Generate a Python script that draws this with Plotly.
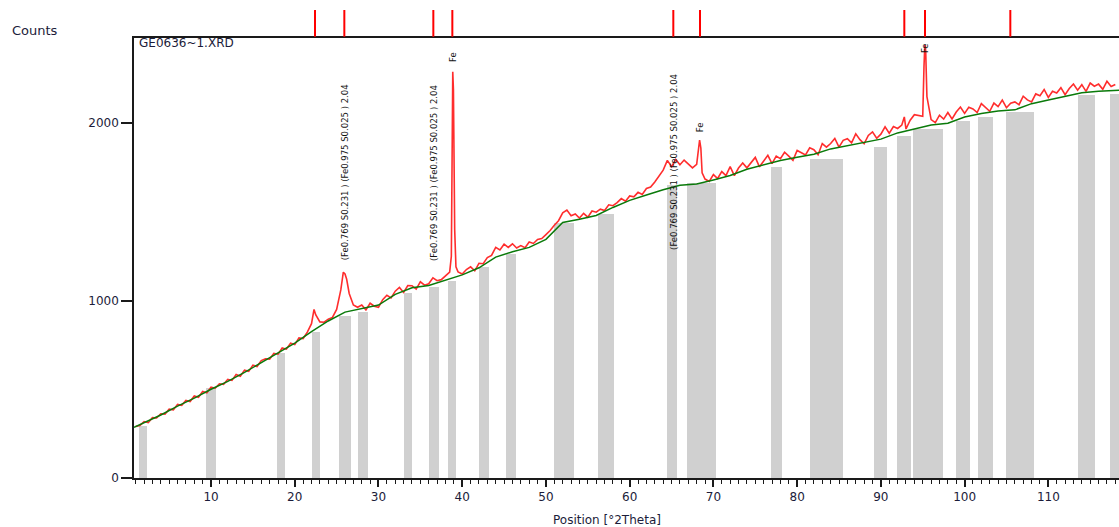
import numpy as np
import plotly.graph_objects as go

# ---------------- data ----------------
# measured counts, 0.5 deg steps starting at 1.0 deg
scan_start = 1.0
scan_step = 0.5
counts = [
    290, 296, 318, 312, 340, 338, 362, 360, 388, 384,
    415, 410, 437, 431, 462, 455, 488, 480, 512, 506,
    531, 528, 556, 550, 583, 574, 608, 601, 636, 628,
    662, 672, 670, 703, 698, 733, 726, 760, 752, 790,
    786, 822, 870, 920, 880, 878, 895, 905, 950, 1060,
    1150, 1040, 975, 962, 975, 948, 985, 968, 962, 1005,
    1030, 1015, 1053, 1074, 1046, 1085, 1084, 1065, 1106, 1087,
    1095, 1128, 1112, 1118, 1140, 1160, 1850, 1162, 1150, 1175,
    1190, 1168, 1210, 1208, 1242, 1255, 1300, 1285, 1318, 1300,
    1320, 1296, 1310, 1298, 1330, 1322, 1345, 1350, 1372, 1395,
    1425, 1450, 1495, 1510, 1478, 1488, 1465, 1492, 1470, 1505,
    1498, 1515, 1508, 1540, 1535, 1552, 1575, 1560, 1590, 1585,
    1610, 1598, 1632, 1640, 1668, 1705, 1735, 1790, 1755, 1795,
    1765, 1792, 1770, 1748, 1768, 1860, 1685, 1672, 1710, 1688,
    1727, 1704, 1755, 1704, 1747, 1776, 1748, 1776, 1807, 1754,
    1785, 1819, 1772, 1814, 1800, 1836, 1814, 1791, 1846, 1834,
    1821, 1861, 1850, 1822, 1885, 1865, 1885, 1914, 1865, 1903,
    1912, 1889, 1940, 1907, 1884, 1931, 1951, 1915, 1938, 1979,
    1943, 1981, 1970, 1989, 1967, 2017, 2048, 2044, 2039, 2150,
    2020, 2003, 2045, 2023, 2060, 2024, 2063, 2091, 2055, 2090,
    2080, 2060, 2110, 2088, 2067, 2113, 2093, 2130, 2087, 2113,
    2120, 2104, 2152, 2131, 2120, 2165, 2155, 2190, 2145, 2180,
    2170, 2200, 2160, 2195, 2221, 2186, 2217, 2179, 2226, 2208,
    2220, 2191, 2236, 2207, 2218,
]
# extra points measured inside the sharp peaks
peak_pos = [22.3, 25.8, 26.2, 38.7, 38.8, 38.87, 38.95, 39.1, 39.25,
            68.35, 68.65, 92.8, 95.15, 95.25, 95.35, 95.45]
peak_counts = [950, 1160, 1120, 1250, 1800, 2290, 2190, 1400, 1190,
               1905, 1720, 2035, 2320, 2440, 2410, 2276]

# background (green) curve
bg_pos = [0.8, 2, 4, 6, 8, 10, 12, 14, 16, 18, 20, 22, 24, 26, 28, 30, 32, 34, 36, 38,
          40, 42, 44, 46, 48, 50, 52, 54, 56, 58, 60, 62, 64, 66, 68, 70, 72, 74, 76, 78,
          80, 82, 84, 86, 88, 90, 92, 94, 96, 98, 100, 102, 104, 106, 108, 110, 112, 114,
          116, 118, 118.5]
bg_counts = [285, 310, 355, 405, 450, 500, 545, 595, 650, 705, 760, 825, 885, 935, 955,
             975, 1035, 1072, 1085, 1115, 1145, 1185, 1245, 1275, 1300, 1345, 1440, 1458,
             1480, 1525, 1565, 1595, 1625, 1650, 1657, 1680, 1705, 1740, 1765, 1790, 1808,
             1825, 1855, 1872, 1892, 1910, 1945, 1968, 1990, 2000, 2035, 2055, 2068, 2075,
             2110, 2130, 2150, 2172, 2180, 2183, 2185]

# grey background-region bars
bar_start = [1.4, 9.4, 17.85, 22.1, 25.3, 27.55, 33.05, 36.04, 38.27, 42.0, 45.2, 50.96,
             56.18, 64.42, 66.9, 76.85, 81.54, 89.22, 91.97, 93.88, 98.94, 101.64, 104.9,
             113.58, 117.37]
bar_end = [2.4, 10.6, 18.84, 23.05, 26.7, 28.8, 34.0, 37.23, 39.22, 43.2, 46.4, 53.35,
           58.13, 65.62, 70.3, 78.24, 85.44, 90.7, 93.64, 97.38, 100.65, 103.36, 108.33,
           115.58, 119.0]
bar_top = [295, 505, 705, 825, 915, 935, 1045, 1075, 1110, 1190, 1265, 1440,
           1490, 1650, 1660, 1751, 1800, 1864, 1930, 1968, 2015, 2034, 2062,
           2160, 2166]

# reference pattern stick positions (top strip)
ref_ticks = [22.42, 25.92, 36.55, 38.82, 65.21, 68.40, 92.80, 95.27, 105.46]

# peak labels
label_x = [25.95, 36.55, 65.2]
label_y = [1721, 1721, 1783]
label_text = ["(Fe0.769 S0.231 ) (Fe0.975 S0.025 ) 2.04",
              "(Fe0.769 S0.231 ) (Fe0.975 S0.025 ) 2.04",
              "(Fe0.769 S0.231 ) (Fe0.975 S0.025 ) 2.04"]
fe_x = [38.87, 68.4, 95.27]
fe_y = [2372, 1977, 2423]

x_ticks = [10, 20, 30, 40, 50, 60, 70, 80, 90, 100, 110]
y_ticks = [0, 1000, 2000]

# ---------------- build ----------------
scan_pos = [scan_start + scan_step * i for i in range(len(counts))]
pairs = sorted(zip(scan_pos + peak_pos, counts + peak_counts))
all_x = [p[0] for p in pairs]
all_y = [p[1] for p in pairs]

centers = [(s + e) / 2 for s, e in zip(bar_start, bar_end)]
widths = [e - s for s, e in zip(bar_start, bar_end)]

fig = go.Figure()
fig.add_trace(go.Bar(x=centers, y=bar_top, width=widths,
                     marker=dict(color="#d0d0d0", line=dict(width=0)),
                     hoverinfo="skip"))
fig.add_trace(go.Scatter(x=all_x, y=all_y, mode="lines",
                         line=dict(color="rgb(255,45,45)", width=1.6)))
fig.add_trace(go.Scatter(x=bg_pos, y=bg_counts, mode="lines",
                         line=dict(color="#0a7a0a", width=1.5)))

axis_col = "#1a1a1a"
tick_font = dict(family="DejaVu Sans", size=12, color="#1c1c3a")

fig.update_layout(
    width=1119, height=527,
    margin=dict(l=134, r=0, t=38, b=49),
    paper_bgcolor="white", plot_bgcolor="white",
    showlegend=False, bargap=0,
    xaxis=dict(range=[0.8, 118.44], showline=True, linecolor=axis_col, linewidth=1.5,
               mirror=True, ticks="outside", ticklen=7, tickwidth=1.5, tickcolor=axis_col,
               tickvals=x_ticks, showgrid=False, zeroline=False, tickfont=tick_font,
               minor=dict(dtick=1, tick0=0, ticks="outside", ticklen=4, tickwidth=1,
                          tickcolor=axis_col, showgrid=False)),
    yaxis=dict(range=[0, 2480], showline=True, linecolor=axis_col, linewidth=1.5,
               ticks="outside", ticklen=11, tickwidth=1.5, tickcolor=axis_col,
               tickvals=y_ticks, showgrid=False, zeroline=False, tickfont=tick_font),
)

for x in ref_ticks:
    fig.add_shape(type="line", xref="x", yref="paper", x0=x, x1=x,
                  y0=1.003, y1=1.0636, line=dict(color="#ff0000", width=2))

lab_font = dict(family="DejaVu Sans", size=8.5, color="#111111")
for x, y, t in zip(label_x, label_y, label_text):
    fig.add_annotation(x=x, y=y, text=t, textangle=-90, showarrow=False, font=lab_font)
for x, y in zip(fe_x, fe_y):
    fig.add_annotation(x=x, y=y, text="Fe", textangle=-90, showarrow=False, font=lab_font)

fig.add_annotation(xref="paper", yref="paper", x=(10 - 134) / 985, y=(478 - 30) / 440,
                   xanchor="left", yanchor="middle", text="Counts", showarrow=False,
                   font=dict(family="DejaVu Sans", size=13, color="#1c1c3a"))
fig.add_annotation(xref="paper", yref="paper", x=3 / 985, y=(478 - 43) / 440,
                   xanchor="left", yanchor="middle", text="GE0636~1.XRD", showarrow=False,
                   font=dict(family="DejaVu Sans", size=12, color="#1c1c3a"))
fig.add_annotation(xref="paper", yref="paper", x=(607 - 134) / 985, y=(478 - 520) / 440,
                   xanchor="center", yanchor="middle", text="Position [°2Theta]",
                   showarrow=False,
                   font=dict(family="DejaVu Sans", size=12, color="#1c1c3a"))

fig.write_html("out.html")
